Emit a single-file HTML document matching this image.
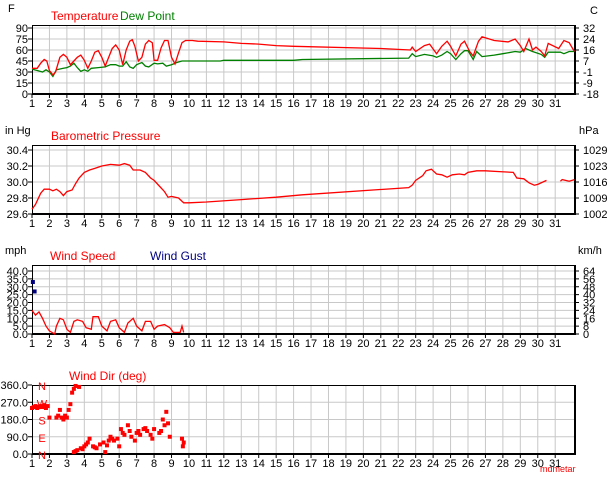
<!DOCTYPE html>
<html><head><meta charset="utf-8"><style>
body{margin:0;background:#fff;width:614px;height:480px;overflow:hidden}
svg{font-family:"Liberation Sans",sans-serif}
</style></head><body>
<svg id="c" width="614" height="480" xmlns="http://www.w3.org/2000/svg"></svg>
<script>
const days=[1,2,3,4,5,6,7,8,9,10,11,12,13,14,15,16,17,18,19,20,21,22,23,24,25,26,27,28,29,30,31];
const tempT=[1.0,1.3,1.5,1.7,1.85,2.0,2.2,2.35,2.6,2.8,3.0,3.2,3.4,3.6,3.8,4.0,4.2,4.4,4.6,4.8,5.0,5.2,5.4,5.6,5.8,6.0,6.2,6.4,6.6,6.75,6.9,7.1,7.3,7.5,7.7,7.9,8.0,8.2,8.4,8.6,8.8,9.0,9.2,9.4,9.6,9.8,10.2,10.5,12,13,14,15,16,21,22.7,22.8,23.0,23.5,23.8,24.2,24.5,24.8,25.0,25.3,25.6,25.8,26.1,26.3,26.6,26.8,27.5,28.3,28.7,29.0,29.2,29.5,29.7,29.9,30.2,30.4,30.6,31.2,31.5,31.8,32.1];
const tempV=[35,35,42,47,45,32,26,30,50,54,50,40,45,50,53,46,35,45,57,59,50,38,50,62,67,60,40,60,72,74,65,45,50,68,73,70,46,46,63,73,73,50,41,56,70,73,73,72,71,69,68,66,65,62,60,64,58,66,68,55,65,72,65,52,68,72,58,52,72,78,73,71,75,66,58,75,60,64,58,52,69,62,73,70,58];
const dewT=[1.0,1.3,1.6,1.8,2.0,2.2,2.4,2.8,3.0,3.2,3.4,3.6,3.8,4.0,4.2,4.4,4.8,5.2,5.5,5.8,6.0,6.2,6.4,6.6,6.8,7.0,7.3,7.5,7.7,8.0,8.2,8.5,8.7,9.0,9.3,9.6,11.8,12,16,16.5,22.6,22.8,23.0,23.5,24,24.2,24.5,24.8,25.0,25.3,25.6,25.8,26.0,26.3,26.5,26.8,27.5,28.0,28.7,29.0,29.3,29.7,30.2,30.4,30.6,31.3,31.5,31.8,32.1];
const dewV=[34,32,30,33,30,24,33,35,36,38,42,36,31,33,31,35,36,37,40,40,38,38,44,37,35,40,43,38,37,42,41,42,38,40,43,45,45,46,46,47,49,55,51,54,52,50,53,58,55,47,55,59,59,47,58,51,53,55,58,57,62,58,54,50,57,57,55,58,58];
const presT=[1.0,1.2,1.5,1.7,2.0,2.2,2.4,2.6,2.8,3.0,3.3,3.5,3.7,4.0,4.3,4.6,5.0,5.5,6.0,6.3,6.6,6.8,7.2,7.5,7.8,8.0,8.3,8.6,8.8,9.0,9.4,9.7,10.0,11,13,15,16.5,22.6,22.8,23.0,23.4,23.6,23.9,24.2,24.5,24.8,25.1,25.5,25.8,26.0,26.5,27.0,27.8,28.6,28.8,29.2,29.5,29.8,30.0,30.5];
const presV=[29.66,29.72,29.86,29.91,29.91,29.89,29.91,29.88,29.83,29.88,29.90,29.98,30.05,30.12,30.15,30.17,30.20,30.22,30.21,30.23,30.21,30.15,30.15,30.12,30.05,30.02,29.95,29.88,29.81,29.82,29.80,29.74,29.74,29.75,29.78,29.81,29.84,29.93,29.96,30.02,30.08,30.14,30.16,30.10,30.09,30.06,30.09,30.10,30.09,30.12,30.14,30.14,30.13,30.12,30.05,30.04,29.99,29.96,29.97,30.02];
const pres2T=[31.3,31.4,31.8,32.1];
const pres2V=[30.01,30.03,30.01,30.03];
const windT=[1.0,1.2,1.4,1.6,1.8,2.0,2.3,2.4,2.6,2.8,3.0,3.2,3.4,3.6,3.9,4.1,4.4,4.5,4.8,5.0,5.3,5.5,5.8,6.0,6.3,6.5,6.8,7.0,7.3,7.5,7.8,8.0,8.2,8.6,8.9,9.1,9.5,9.6,9.7];
const windV=[15,12,14,10,5,2,0,5,10,9,3,1,8,9,8,4,3,11,11,5,2,8,9,4,1,7,10,5,2,8,8,3,5,6,4,1,1,5,1];
const gustT=[1.05,1.15];
const gustV=[33,27];
const dirT=[1.0,1.1,1.2,1.3,1.4,1.5,1.6,1.7,1.8,1.9,2.0,2.4,2.5,2.6,2.7,2.8,2.9,3.0,3.1,3.2,3.3,3.4,3.5,3.7,3.4,3.6,3.8,4.0,4.2,4.3,4.5,4.7,4.9,5.1,5.2,5.4,5.5,5.7,5.9,6.0,6.1,6.3,6.5,6.6,6.7,6.9,7.0,7.2,7.4,7.6,7.8,7.9,8.0,8.3,8.5,8.6,8.7,8.8,8.9,9.6,9.65,9.7,3.5,3.9,4.1,4.6,5.3,5.6,6.2,7.1,7.5,8.4];
const dirV=[240,245,250,240,245,250,245,255,240,250,190,190,200,230,190,180,200,190,230,260,320,340,355,350,10,20,30,40,60,80,40,30,50,60,10,70,90,70,80,40,130,100,150,120,90,70,110,100,130,120,100,80,130,110,180,150,220,160,90,80,40,60,15,25,50,35,45,80,110,120,135,120];

const S="http://www.w3.org/2000/svg",svg=document.getElementById('c');
const X0=32,X1=575,DX=17.44;
const xd=d=>X0+(d-1)*DX;
function el(t,a,name,txt){const e=document.createElementNS(S,t);for(const k in a)e.setAttribute(k,a[k]);


if(txt!==undefined)e.textContent=txt;svg.appendChild(e);return e;}
function panel(p){
 el('rect',{x:X0,y:p.top,width:X1-X0,height:p.bot-p.top,fill:'#fff'},p.id+'-plot-area');
 days.forEach(d=>{if(d>1)el('line',{x1:xd(d),x2:xd(d),y1:p.top,y2:p.bot,stroke:'#c8c8c8'},p.id+'-vgrid');
  el('line',{x1:xd(d),x2:xd(d),y1:p.bot,y2:p.bot+4,stroke:'#000'},p.id+'-x-tick');
  el('text',{x:xd(d),y:p.bot+13,'font-size':11,'text-anchor':'middle'},p.id+'-x-label',String(d));});
 p.ticks.forEach((v,i)=>{const y=p.y(v);
  if(y>p.top+1&&y<p.bot-1)el('line',{x1:X0,x2:X1,y1:y,y2:y,stroke:'#c8c8c8'},p.id+'-hgrid');
  el('line',{x1:X0-4,x2:X0,y1:y,y2:y,stroke:'#000'},p.id+'-y-tick');
  el('text',{x:X0-4,y:y+4,'font-size':11,'text-anchor':'end'},p.id+'-y-label',p.lab[i]);
  if(p.rlab){el('line',{x1:X1,x2:X1+4,y1:y,y2:y,stroke:'#000'},p.id+'-y2-tick');
   el('text',{x:X1+8,y:y+4,'font-size':11},p.id+'-y2-label',p.rlab[i]);}});
 el('rect',{x:X0+0.5,y:p.top+0.5,width:X1-X0-1,height:p.bot-p.top-1,fill:'none',stroke:'#000'},p.id+'-frame');
 el('line',{x1:X0,x2:X1+1,y1:p.bot+0.5,y2:p.bot+0.5,stroke:'#000'},p.id+'-frame-shadow');
 el('line',{x1:X1+0.5,x2:X1+0.5,y1:p.top,y2:p.bot+1,stroke:'#000'},p.id+'-frame-shadow');
}
function line(T,V,y,col,name){let d='';T.forEach((t,i)=>{d+=(i?'L':'M')+xd(t).toFixed(1)+','+y(V[i]).toFixed(1);});
 el('path',{d:d,fill:'none',stroke:col,'stroke-width':1.3},name);}
// temp
const y1=v=>94-v/90*66;
panel({id:'temp',top:25,bot:94,y:y1,ticks:[90,75,60,45,30,15,0],lab:['90','75','60','45','30','15','0'],rlab:['32','24','16','7','-1','-9','-18']});
line(dewT,dewV,y1,'#008000','dew-point-line');
line(tempT,tempV,y1,'#ff0000','temperature-line');
el('text',{x:8,y:12,'font-size':11},'temp-unit-left','F');
el('text',{x:590,y:14,'font-size':11},'temp-unit-right','C');
el('text',{x:51,y:20,'font-size':12,fill:'#ff0000'},'temperature-legend','Temperature');
el('text',{x:120,y:20,'font-size':12,fill:'#008000'},'dew-point-legend','Dew Point');
// pressure
const y2=v=>214-(v-29.6)/0.8*64;
panel({id:'pres',top:145,bot:214,y:y2,ticks:[30.4,30.2,30.0,29.8,29.6],lab:['30.4','30.2','30.0','29.8','29.6'],rlab:['1029','1023','1016','1009','1002']});
line(presT,presV,y2,'#ff0000','pressure-line');
line(pres2T,pres2V,y2,'#ff0000','pressure-line-2');
el('text',{x:5,y:134,'font-size':11},'pres-unit-left','in Hg');
el('text',{x:579,y:134,'font-size':11},'pres-unit-right','hPa');
el('text',{x:51,y:140,'font-size':12,fill:'#ff0000'},'pressure-legend','Barometric Pressure');
// wind speed
const y3=v=>334-v/40*63;
panel({id:'wind',top:265,bot:334,y:y3,ticks:[40,35,30,25,20,15,10,5,0],lab:['40.0','35.0','30.0','25.0','20.0','15.0','10.0','5.0','0.0'],rlab:['64','56','48','40','32','24','16','8','0']});
line(windT,windV,y3,'#ff0000','wind-speed-line');
gustT.forEach((t,i)=>{el('rect',{x:xd(t)-2,y:y3(gustV[i])-2,width:4,height:4,fill:'#000080'},'wind-gust-point');});
el('text',{x:5,y:254,'font-size':11},'wind-unit-left','mph');
el('text',{x:578,y:254,'font-size':11},'wind-unit-right','km/h');
el('text',{x:50,y:260,'font-size':12,fill:'#ff0000'},'wind-speed-legend','Wind Speed');
el('text',{x:150,y:260,'font-size':12,fill:'#000080'},'wind-gust-legend','Wind Gust');
// wind dir
const y4=v=>454-v/360*69;
panel({id:'dir',top:385,bot:454,y:y4,ticks:[360,270,180,90,0],lab:['360.0','270.0','180.0','90.0','0.0']});
['N','W','S','E','N'].forEach((c,i)=>el('text',{x:42,y:y4(360-i*90)+5,'font-size':11,'text-anchor':'middle',fill:'#ff0000'},'compass-label',c));
dirT.forEach((t,i)=>{el('rect',{x:xd(t)-2,y:y4(dirV[i])-2,width:4,height:4,fill:'#ff0000'},'wind-dir-point');});
el('text',{x:69,y:380,'font-size':12,fill:'#ff0000'},'wind-dir-legend','Wind Dir (deg)');
el('text',{x:540,y:472,'font-size':9,fill:'#ff0000'},'credit-label','mdmetar');
</script>
</body></html>
